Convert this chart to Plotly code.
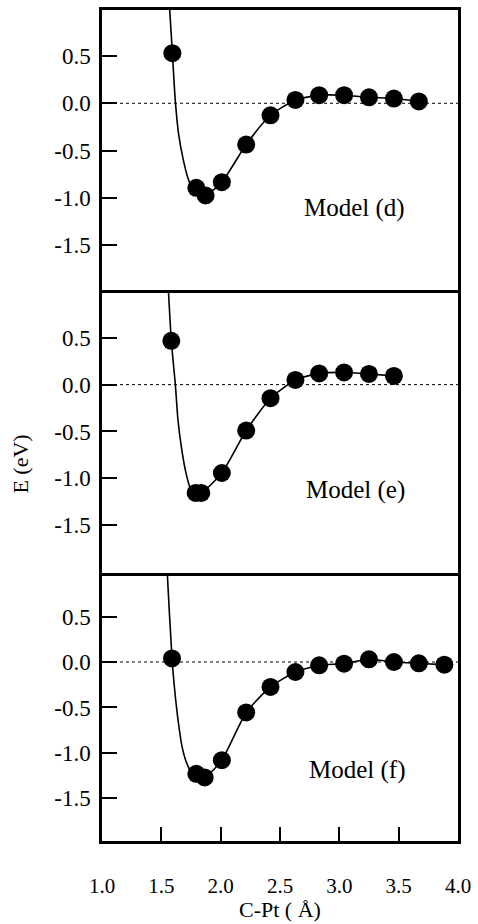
import plotly.graph_objects as go

# ---------------- data ----------------
# Model (d)
d_x = [1.593, 1.795, 1.873, 2.01, 2.215, 2.42, 2.63, 2.83, 3.04, 3.25, 3.46, 3.67]
d_y = [0.53, -0.895, -0.976, -0.835, -0.437, -0.127, 0.035, 0.085, 0.085, 0.063, 0.05, 0.02]
d_curve_x = [1.555, 1.571, 1.593, 1.618, 1.646, 1.682, 1.724, 1.766, 1.81, 1.873, 2.01, 2.215, 2.42, 2.63, 2.83, 3.04, 3.25, 3.46, 3.67]
d_curve_y = [1.3, 0.98, 0.53, 0.02, -0.33, -0.58, -0.79, -0.91, -0.96, -0.976, -0.835, -0.437, -0.127, 0.035, 0.085, 0.085, 0.063, 0.05, 0.02]

# Model (e)
e_x = [1.584, 1.789, 1.837, 2.01, 2.215, 2.42, 2.63, 2.83, 3.04, 3.25, 3.46]
e_y = [0.468, -1.156, -1.156, -0.943, -0.49, -0.145, 0.05, 0.12, 0.13, 0.114, 0.093]
e_curve_x = [1.545, 1.561, 1.584, 1.618, 1.64, 1.668, 1.702, 1.738, 1.774, 1.837, 2.01, 2.215, 2.42, 2.63, 2.83, 3.04, 3.25, 3.46]
e_curve_y = [1.3, 0.97, 0.468, 0.0, -0.375, -0.66, -0.91, -1.085, -1.17, -1.156, -0.943, -0.49, -0.145, 0.05, 0.12, 0.13, 0.114, 0.093]

# Model (f)
f_x = [1.59, 1.795, 1.865, 2.01, 2.215, 2.42, 2.63, 2.83, 3.04, 3.25, 3.46, 3.67, 3.885]
f_y = [0.04, -1.23, -1.27, -1.08, -0.555, -0.274, -0.11, -0.037, -0.018, 0.03, 0.0, -0.015, -0.03]
f_curve_x = [1.535, 1.55, 1.59, 1.612, 1.64, 1.673, 1.71, 1.752, 1.80, 1.865, 2.01, 2.215, 2.42, 2.63, 2.83, 3.04, 3.25, 3.46, 3.67, 3.885]
f_curve_y = [1.4, 0.98, 0.04, -0.3, -0.63, -0.92, -1.10, -1.21, -1.25, -1.27, -1.08, -0.555, -0.274, -0.11, -0.037, -0.018, 0.03, 0.0, -0.015, -0.03]

model_labels = ["Model (d)", "Model (e)", "Model (f)"]
label_x = [3.13, 3.14, 3.15]
label_y = [-1.11, -1.12, -1.19]

y_tickvals = [0.5, 0.0, -0.5, -1.0, -1.5]
y_ticktext = ["0.5", "0.0", "-0.5", "-1.0", "-1.5"]
x_tickvals = [1.0, 1.5, 2.0, 2.5, 3.0, 3.5, 4.0]
x_ticktext = ["1.0", "1.5", "2.0", "2.5", "3.0", "3.5", "4.0"]

x_title = "C-Pt ( Å)"
y_title = "E (eV)"

# ---------------- figure ----------------
W, H = 478, 924
ML, MR, MT, MB = 102, 19, 7, 83
plot_h = H - MT - MB
plot_w = W - ML - MR
def py(p):
    return (H - MB - p) / plot_h

domains = [[py(288), 1.0], [py(572), py(288)], [0.0, py(572)]]
y_ranges = [[-1.976, 0.987], [-2.01, 1.01], [-1.97, 0.98]]

FONT = "Liberation Serif"
fig = go.Figure()

series = [(d_x, d_y, d_curve_x, d_curve_y), (e_x, e_y, e_curve_x, e_curve_y), (f_x, f_y, f_curve_x, f_curve_y)]
for i, (px_, py_, cx, cy) in enumerate(series):
    xa = "x" if i == 0 else f"x{i+1}"
    ya = "y" if i == 0 else f"y{i+1}"
    fig.add_trace(go.Scatter(x=cx, y=cy, mode="lines", xaxis=xa, yaxis=ya,
                             line=dict(color="black", width=1.6, shape="spline", smoothing=0.6),
                             hoverinfo="skip", showlegend=False))
    fig.add_trace(go.Scatter(x=px_, y=py_, mode="markers", xaxis=xa, yaxis=ya,
                             marker=dict(color="black", size=18), cliponaxis=False,
                             showlegend=False))
    fig.add_shape(type="line", xref=f"{xa} domain", yref=ya, x0=0, x1=1, y0=0, y1=0,
                  line=dict(color="black", width=1, dash="3px,3px"), layer="below")
    fig.add_annotation(x=label_x[i], y=label_y[i], xref=xa, yref=ya, text=model_labels[i],
                       xanchor="center", yanchor="middle",
                       showarrow=False, font=dict(family=FONT, size=25, color="black"))

line_common = dict(showline=True, linecolor="black", linewidth=2.5,
                   showgrid=False, zeroline=False)

layout = dict(width=W, height=H, margin=dict(l=ML, r=MR, t=MT, b=MB),
              paper_bgcolor="white", plot_bgcolor="white", showlegend=False,
              font=dict(family=FONT, color="black"))
for i in range(3):
    xk = "xaxis" if i == 0 else f"xaxis{i+1}"
    yk = "yaxis" if i == 0 else f"yaxis{i+1}"
    ya = "y" if i == 0 else f"y{i+1}"
    xa = "x" if i == 0 else f"x{i+1}"
    if i < 2:
        layout[xk] = dict(range=[1.0, 4.0], anchor=ya, domain=[0, 1], ticks="",
                          showticklabels=False, mirror=(i == 0), **line_common)
    else:
        layout[xk] = dict(range=[1.0, 4.0], anchor=ya, domain=[0, 1], ticks="inside",
                          ticklen=14, tickwidth=2, tickcolor="black",
                          tickmode="array", tickvals=x_tickvals, ticktext=x_ticktext,
                          ticklabelstandoff=24, mirror=False,
                          tickfont=dict(family=FONT, size=21, color="black"), **line_common)
    layout[yk] = dict(range=y_ranges[i], anchor=xa, domain=domains[i], ticks="inside",
                      ticklen=15, tickwidth=2, tickcolor="black",
                      mirror=True, ticklabelstandoff=4,
                      tickmode="array", tickvals=y_tickvals, ticktext=y_ticktext,
                      tickfont=dict(family=FONT, size=23, color="black"), **line_common)
fig.update_layout(**layout)

fig.add_annotation(x=0.5, y=py(910), xref="paper", yref="paper", text=x_title,
                   xanchor="center", yanchor="middle",
                   showarrow=False, font=dict(family=FONT, size=22, color="black"))
fig.add_annotation(x=(20 - ML) / plot_w, y=py(463), xref="paper", yref="paper",
                   text=y_title, textangle=-90, xanchor="center", yanchor="middle",
                   showarrow=False, font=dict(family=FONT, size=22, color="black"))

fig.write_html("out.html", config={"displayModeBar": False},
               post_script="document.body.style.margin='0';")
